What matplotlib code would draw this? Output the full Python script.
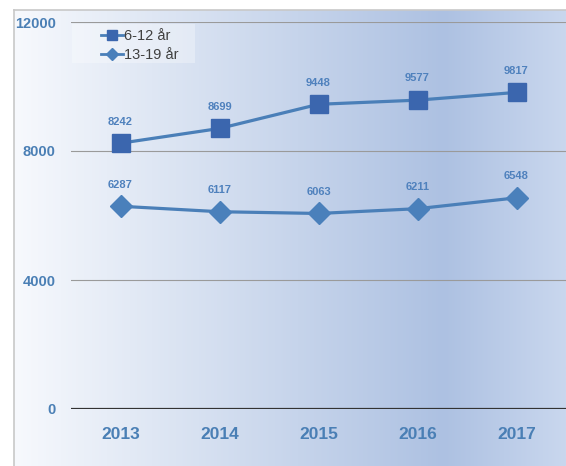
import matplotlib
matplotlib.use('Agg')
import matplotlib.pyplot as plt
import numpy as np
from matplotlib.colors import LinearSegmentedColormap
from matplotlib.patches import Rectangle

plt.rcParams['font.family'] = ['Liberation Sans', 'DejaVu Sans']

years = ['2013', '2014', '2015', '2016', '2017']
kids = [8242, 8699, 9448, 9577, 9817]
teens = [6287, 6117, 6063, 6211, 6548]
yticks = [0, 4000, 8000, 12000]

W, H = 566, 466
fig = plt.figure(figsize=(W / 100, H / 100), dpi=100)
fig.patch.set_facecolor('white')

# gradient background of the chart frame
bg = fig.add_axes([14 / W, 0, 1 - 14 / W, 1 - 10 / H])
cmap = LinearSegmentedColormap.from_list(
    'bg', [(0, '#f7f9fd'), (0.25, '#dfe7f4'), (0.78, '#adc1e2'), (1, '#c9d7ee')])
bg.imshow(np.linspace(0, 1, 256)[None, :], aspect='auto', cmap=cmap,
          extent=[0, 1, 0, 1])
bg.set_xticks([])
bg.set_yticks([])
for s in bg.spines.values():
    s.set_color('#c8c8c8')
    s.set_linewidth(1.2)
bg.spines['right'].set_visible(False)
bg.spines['bottom'].set_visible(False)

ax = fig.add_axes([71 / W, 1 - 409 / H, (566 - 71) / W, (409 - 22) / H])
ax.patch.set_alpha(0)
x = np.arange(len(years))
ax.set_xlim(-0.5, len(years) - 0.5)
ax.set_ylim(0, 12000)

# light box behind the legend
ax.add_patch(Rectangle((72 / W, 1 - 63 / H), 123 / W, 39 / H,
                       transform=fig.transFigure, facecolor='white',
                       alpha=0.3, edgecolor='none', zorder=0.5, clip_on=False))

for y in yticks[1:]:
    ax.axhline(y, color='#9a9a9a', lw=0.8, zorder=1)
ax.axhline(0, color='#333333', lw=1.6, zorder=2)

line_c = '#4a7fb8'
ax.plot(x, kids, color=line_c, lw=2.3, marker='s', markersize=13,
        markerfacecolor='#3b66ae', markeredgecolor='#3b66ae', label='6-12 år', zorder=3)
ax.plot(x, teens, color=line_c, lw=2.3, marker='D', markersize=11,
        markerfacecolor='#4a80bb', markeredgecolor='#4a80bb', label='13-19 år', zorder=3)

for xi, v in zip(x, kids):
    ax.annotate(str(v), (xi, v), xytext=(0, 12), textcoords='offset points',
                ha='center', va='bottom', fontsize=8, fontweight='bold', color='#4f81bd')
for xi, v in zip(x, teens):
    ax.annotate(str(v), (xi, v), xytext=(0, 12), textcoords='offset points',
                ha='center', va='bottom', fontsize=8, fontweight='bold', color='#4f81bd')

ax.set_xticks(x)
ax.set_xticklabels(years)
ax.set_yticks(yticks)
ax.tick_params(axis='x', length=0, labelsize=12.5, labelcolor='#4a7fb5', pad=13)
ax.tick_params(axis='y', length=0, labelsize=10.5, labelcolor='#4a7fb5', pad=11)
for lab in ax.get_xticklabels() + ax.get_yticklabels():
    lab.set_fontweight('bold')
for s in ax.spines.values():
    s.set_visible(False)

leg = ax.legend(loc='upper left', bbox_to_anchor=(26 / 495, 0.992), frameon=False,
                fontsize=10.5, handlelength=1.5, handletextpad=0.05,
                borderpad=0.1, labelspacing=0.3, markerscale=0.6,
                borderaxespad=0.2)
leg.set_zorder(5)
for t in leg.get_texts():
    t.set_color('#404040')
for h in leg.legend_handles:
    h.set_linewidth(2)

fig.savefig('out.png', dpi=100)
